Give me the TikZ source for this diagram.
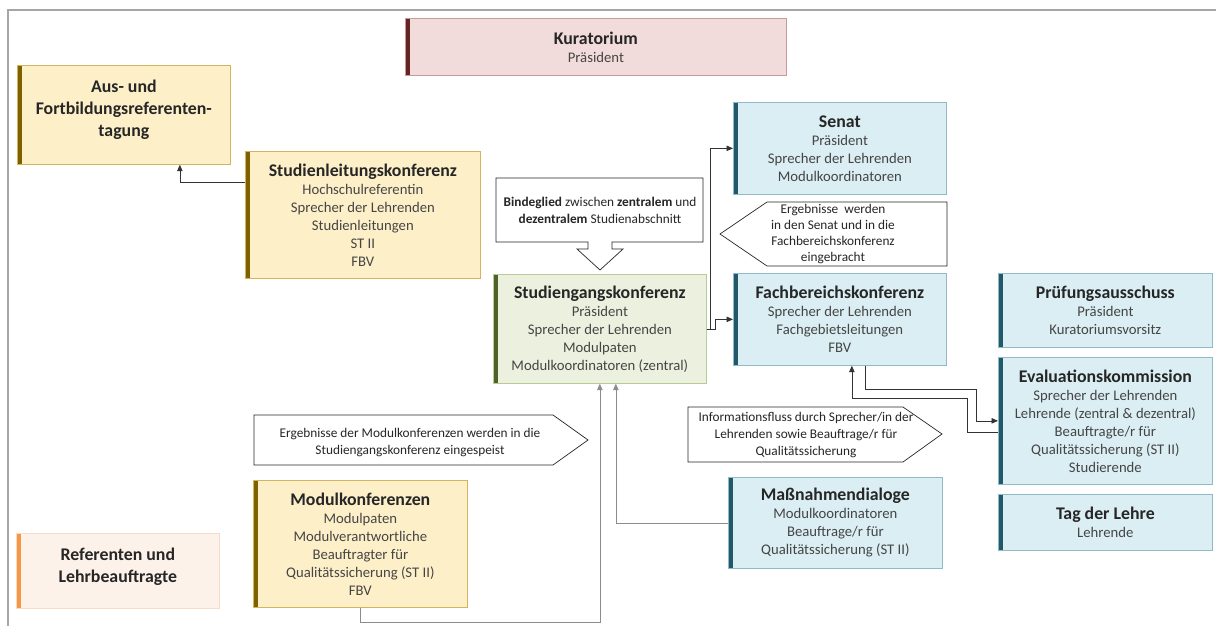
\documentclass[tikz,border=0pt]{standalone}
\usepackage{fontspec}
\setmainfont{Carlito}
\usetikzlibrary{arrows.meta}
\definecolor{rosaFill}{HTML}{F2DCDB}
\definecolor{rosaRand}{HTML}{C99A98}
\definecolor{rosaLeiste}{HTML}{632523}
\definecolor{gelbFill}{HTML}{FDF0C9}
\definecolor{gelbRand}{HTML}{D2B55E}
\definecolor{gelbLeiste}{HTML}{7F6000}
\definecolor{gruenFill}{HTML}{EBF1DE}
\definecolor{gruenRand}{HTML}{B9CC96}
\definecolor{gruenLeiste}{HTML}{4F6228}
\definecolor{blauFill}{HTML}{DAEEF3}
\definecolor{blauRand}{HTML}{8FBBC8}
\definecolor{blauLeiste}{HTML}{215968}
\definecolor{pfirsichFill}{HTML}{FDF2EA}
\definecolor{pfirsichRand}{HTML}{F8DCC8}
\definecolor{pfirsichLeiste}{HTML}{F79646}
\definecolor{titelgrau}{HTML}{262626}
\definecolor{textgrau}{HTML}{454545}
\definecolor{rahmengrau}{HTML}{A6A6A6}
\newcommand{\titelfont}{\fontsize{17.8}{22}\selectfont\bfseries}
\newcommand{\titel}[1]{{\titelfont\color{titelgrau}#1}}
\tikzset{gremium/.style={rectangle,draw,anchor=north west,align=center,inner sep=2pt,
		line width=0.7pt,text=textgrau,font=\fontsize{14.7}{18}\selectfont},
	leiste/.style={path picture={\fill[#1] (path picture bounding box.north west)
			rectangle ([xshift=4.5pt]path picture bounding box.south west);}},
	rosa/.style={gremium,fill=rosaFill,draw=rosaRand,leiste=rosaLeiste},
	gelb/.style={gremium,fill=gelbFill,draw=gelbRand,leiste=gelbLeiste},
	gruen/.style={gremium,fill=gruenFill,draw=gruenRand,leiste=gruenLeiste},
	blau/.style={gremium,fill=blauFill,draw=blauRand,leiste=blauLeiste},
	pfirsich/.style={gremium,fill=pfirsichFill,draw=pfirsichRand,leiste=pfirsichLeiste},
	hinweis/.style={draw=black!85,fill=white,line width=0.7pt,line join=miter},
	hinweistext/.style={align=center,inner sep=0pt,text=black!85,font=\fontsize{13.3}{17}\selectfont},
	pfeil/.style={draw=black!80,line width=0.7pt,-{Triangle[length=6.5pt,width=5.5pt]}},
	gpfeil/.style={pfeil,draw=black!45}}

\begin{document}
\begin{tikzpicture}[x=1pt,y=-1pt]
	\useasboundingbox (0,0) rectangle (1216,626);
	\draw[rahmengrau,line width=1.5pt] (1216,10) -- (8,10) -- (8,626);
	% Gremien
	\node[rosa,minimum width=381,minimum height=57] (kur) at (405,18)
	{\titel{Kuratorium}\\Präsident};
	\node[gelb,minimum width=213,minimum height=99,font=\titelfont,text=titelgrau] (aus) at (17,65)
	{Aus- und\\Fortbildungsreferenten-\\tagung\\[-8pt]};
	\node[gelb,minimum width=235,minimum height=127] (slk) at (245,151)
	{\titel{Studienleitungskonferenz}\\Hochschulreferentin\\Sprecher der Lehrenden\\Studienleitungen\\ST II\\FBV};
	\node[gruen,minimum width=213,minimum height=109] (sgk) at (493,274)
	{\titel{Studiengangskonferenz}\\Präsident\\Sprecher der Lehrenden\\Modulpaten\\Modulkoordinatoren (zentral)};
	\node[blau,minimum width=213,minimum height=92] (senat) at (733,102)
	{\titel{Senat}\\Präsident\\Sprecher der Lehrenden\\Modulkoordinatoren};
	\node[blau,minimum width=213,minimum height=92] (fbk) at (733,273)
	{\titel{Fachbereichskonferenz}\\Sprecher der Lehrenden\\Fachgebietsleitungen\\FBV};
	\node[blau,minimum width=214,minimum height=74] (pruef) at (998,273)
	{\titel{Prüfungsausschuss}\\Präsident\\Kuratoriumsvorsitz};
	\node[blau,minimum width=214,minimum height=127] (eval) at (998,357)
	{\titel{Evaluationskommission}\\Sprecher der Lehrenden\\Lehrende (zentral \& dezentral)\\Beauftragte/r für\\Qualitätssicherung (ST II)\\Studierende};
	\node[blau,minimum width=214,minimum height=56] (tag) at (998,494)
	{\titel{Tag der Lehre}\\Lehrende};
	\node[blau,minimum width=214,minimum height=91] (mass) at (728,477)
	{\titel{Maßnahmendialoge}\\Modulkoordinatoren\\Beauftrage/r für\\Qualitätssicherung (ST II)};
	\node[gelb,minimum width=214,minimum height=127] (modk) at (253,480)
	{\titel{Modulkonferenzen}\\Modulpaten\\Modulverantwortliche\\Beauftragter für\\Qualitätssicherung (ST II)\\FBV};
	\node[pfirsich,minimum width=203,minimum height=75,font=\titelfont,text=titelgrau] (ref) at (16,533)
	{Referenten und\\Lehrbeauftragte\\[-10pt]};
	% Hinweise
	\draw[hinweis] (496,178) -- (703,178) -- (703,242) -- (612,242) -- (612,249) -- (623,249)
	-- (600,270) -- (577,249) -- (588,249) -- (588,242) -- (496,242) -- cycle;
	\node[hinweistext] (bind) at (600,210)
	{\textbf{Bindeglied} zwischen \textbf{zentralem} und\\\textbf{dezentralem} Studienabschnitt};
	\draw[hinweis] (767,202) -- (947,202) -- (947,266) -- (767,266) -- (720,234) -- cycle;
	\node[hinweistext,font=\fontsize{13.3}{16}\selectfont] (ergsen) at (833,234)
	{Ergebnisse~ werden\\in den Senat und in die\\Fachbereichskonferenz\\eingebracht};
	\draw[hinweis] (688,407) -- (903,407) -- (942,434) -- (903,462) -- (688,462) -- cycle;
	\node[hinweistext] (info) at (806,435)
	{Informationsfluss durch Sprecher/in der\\Lehrenden sowie Beauftrage/r für\\Qualitätssicherung};
	\draw[hinweis] (254,415) -- (553,415) -- (588,440) -- (553,465) -- (254,465) -- cycle;
	\node[hinweistext] (ergmod) at (410,443)
	{Ergebnisse der Modulkonferenzen werden in die\\Studiengangskonferenz eingespeist};
	% Verbindungen
	\draw[pfeil] ([yshift=33pt]slk.west) -| ([xshift=56pt]aus.south);
	\draw[pfeil] (sgk.east) -- ++(4,0) |- (senat.west);
	\draw[pfeil] (sgk.east) -- ++(9,0) |- (fbk.west);
	\draw[gpfeil] (modk.south) -- ++(0,15) -| (sgk.south);
	\draw[gpfeil] (mass.west) -| ([xshift=16pt]sgk.south);
	\draw[pfeil] ([yshift=-11pt]eval.west) -- ++(-31,0) -- ++(0,-34) -| ([xshift=12pt]fbk.south);
	\draw[pfeil] ([xshift=25pt]fbk.south) -- ++(0,24) -- ++(111,0) |- (eval.west);
\end{tikzpicture}
\end{document}
